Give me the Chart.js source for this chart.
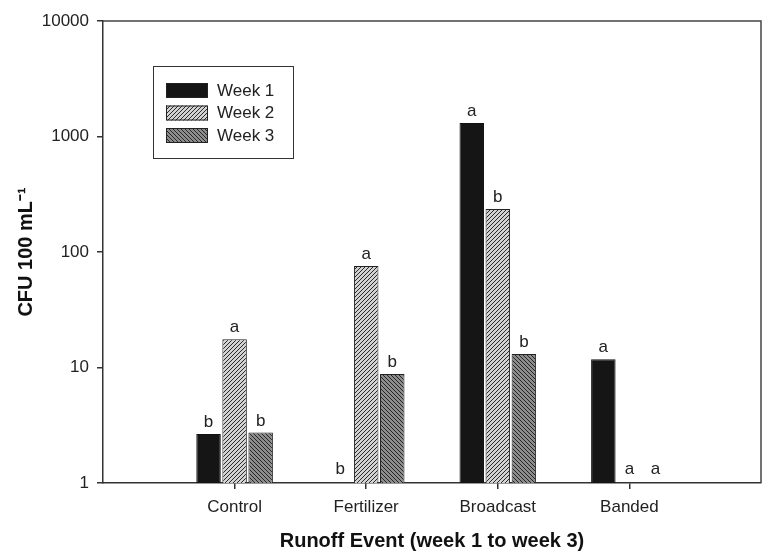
<!DOCTYPE html>
<html>
<head>
<meta charset="utf-8">
<script src="https://cdn.jsdelivr.net/npm/chart.js@4.4.0/dist/chart.umd.min.js"></script>
<style>
  html, body { margin: 0; padding: 0; background: #fff; overflow: hidden; }
  #wrap { width: 762px; height: 554px; }
</style>
</head>
<body>
<div id="wrap"><canvas id="cfuChart"></canvas></div>
<script>
const categories = ['Control', 'Fertilizer', 'Broadcast', 'Banded'];
const seriesNames = ['Week 1', 'Week 2', 'Week 3'];
const week1 = [2.66, null, 1310, 11.8];
const week2 = [17.6, 75.7, 236, null];
const week3 = [2.73, 8.8, 13.1, null];
const week1Letters = ['b', 'b', 'a', 'a'];
const week2Letters = ['a', 'a', 'b', 'a'];
const week3Letters = ['b', 'b', 'b', 'a'];
const yTicks = [1, 10, 100, 1000, 10000];

document.addEventListener('DOMContentLoaded', function() {
    'use strict';

    const FONT = '"Liberation Sans", Arial, sans-serif';
    const canvas = document.getElementById('cfuChart');
    const mainCtx = canvas.getContext('2d');

    // diagonal hatch fill, dir 1 = "////", dir -1 = "\\\\"
    function hatch(bg, line, dir) {
        const s = 4;
        const c = document.createElement('canvas');
        c.width = s; c.height = s;
        const g = c.getContext('2d');
        g.fillStyle = bg;
        g.fillRect(0, 0, s, s);
        g.strokeStyle = line;
        g.lineWidth = 1;
        g.beginPath();
        if (dir > 0) {
            g.moveTo(0, s); g.lineTo(s, 0);
            g.moveTo(-1, 1); g.lineTo(1, -1);
            g.moveTo(s - 1, s + 1); g.lineTo(s + 1, s - 1);
        } else {
            g.moveTo(0, 0); g.lineTo(s, s);
            g.moveTo(-1, s - 1); g.lineTo(1, s + 1);
            g.moveTo(s - 1, -1); g.lineTo(s + 1, 1);
        }
        g.stroke();
        return mainCtx.createPattern(c, 'repeat');
    }

    // empty slots at both ends so the groups sit at 1..4 of 0..5
    const pad = arr => [null, ...arr, null];
    const letterSets = [week1Letters, week2Letters, week3Letters];

    const letters = {
        id: 'letters',
        afterDatasetsDraw(chart) {
            const ctx = chart.ctx;
            const yScale = chart.scales.y;
            ctx.save();
            ctx.font = '17px ' + FONT;
            ctx.fillStyle = '#222';
            ctx.textAlign = 'center';
            ctx.textBaseline = 'alphabetic';
            letterSets.forEach((set, d) => {
                const meta = chart.getDatasetMeta(d);
                set.forEach((txt, i) => {
                    const el = meta.data[i + 1];
                    const v = chart.data.datasets[d].data[i + 1];
                    const y = v == null ? yScale.bottom - 9 : el.y - 7;
                    ctx.fillText(txt, el.x, y);
                });
            });
            ctx.restore();
        }
    };

    const frame = {
        id: 'frame',
        afterDraw(chart) {
            const ctx = chart.ctx;
            const a = chart.chartArea;
            ctx.save();
            ctx.strokeStyle = '#444';
            ctx.lineWidth = 1.5;
            ctx.beginPath();
            ctx.moveTo(a.left, a.top);
            ctx.lineTo(a.right, a.top);
            ctx.lineTo(a.right, a.bottom);
            ctx.stroke();

            // boxed legend
            ctx.lineWidth = 1;
            ctx.strokeStyle = '#333';
            ctx.strokeRect(153.5, 66.5, 140, 92);
            chart.data.datasets.forEach((ds, i) => {
                const y = 83 + i * 22.5;
                ctx.fillStyle = ds.backgroundColor;
                ctx.fillRect(166, y, 42, 15);
                ctx.strokeStyle = '#222';
                ctx.strokeRect(166.5, y + 0.5, 41, 14);
                ctx.fillStyle = '#222';
                ctx.font = '17px ' + FONT;
                ctx.textAlign = 'left';
                ctx.textBaseline = 'middle';
                ctx.fillText(ds.label, 217, y + 8);
            });
            ctx.restore();
        }
    };

    new Chart(canvas, {
        type: 'bar',
        data: {
            labels: pad(categories),
            datasets: [
                {
                    label: seriesNames[0],
                    data: pad(week1),
                    backgroundColor: '#151515',
                    borderColor: '#111',
                    borderWidth: 1
                },
                {
                    label: seriesNames[1],
                    data: pad(week2),
                    backgroundColor: hatch('#d2d2d2', '#2a2a2a', 1),
                    borderColor: '#222',
                    borderWidth: 1
                },
                {
                    label: seriesNames[2],
                    data: pad(week3),
                    backgroundColor: hatch('#8c8c8c', '#262626', -1),
                    borderColor: '#222',
                    borderWidth: 1
                }
            ]
        },
        options: {
            responsive: true,
            maintainAspectRatio: false,
            animation: false,
            categoryPercentage: 0.594,
            barPercentage: 0.94,
            layout: { padding: { top: 21, right: 1, left: 0, bottom: 0 } },
            plugins: {
                legend: { display: false },
                tooltip: { enabled: false }
            },
            scales: {
                x: {
                    offset: false,
                    grid: { offset: false, drawOnChartArea: false, drawTicks: true, tickLength: 6, color: '#333', lineWidth: 1.5 },
                    border: { display: true, color: '#333', width: 1.5 },
                    afterBuildTicks: function(scale) {
                        scale.ticks = scale.ticks.filter(t => t.value >= 1 && t.value <= categories.length);
                    },
                    ticks: {
                        autoSkip: false,
                        maxRotation: 0,
                        padding: 8,
                        color: '#222',
                        font: { family: FONT, size: 17 }
                    },
                    title: {
                        display: true,
                        text: 'Runoff Event (week 1 to week 3)',
                        color: '#111',
                        padding: { top: 0, bottom: 1 },
                        font: { family: FONT, size: 20, weight: 'bold' }
                    },
                    afterFit: function(scale) { scale.height = 71; }
                },
                y: {
                    type: 'logarithmic',
                    min: 1,
                    max: 10000,
                    grid: { drawOnChartArea: false, drawTicks: true, tickLength: 6, color: '#333', lineWidth: 1.5 },
                    border: { display: true, color: '#333', width: 1.5 },
                    afterBuildTicks: function(scale) {
                        scale.ticks = yTicks.map(v => ({ value: v }));
                    },
                    ticks: {
                        padding: 8,
                        color: '#222',
                        font: { family: FONT, size: 17 },
                        callback: function(value) { return String(value); }
                    },
                    title: {
                        display: true,
                        text: 'CFU 100 mL\u207B\u00B9',
                        color: '#111',
                        padding: { top: 14, bottom: 0 },
                        font: { family: FONT, size: 20, weight: 'bold' }
                    },
                    afterFit: function(scale) { scale.width = 103; }
                }
            }
        },
        plugins: [letters, frame]
    });
});
</script>
</body>
</html>
